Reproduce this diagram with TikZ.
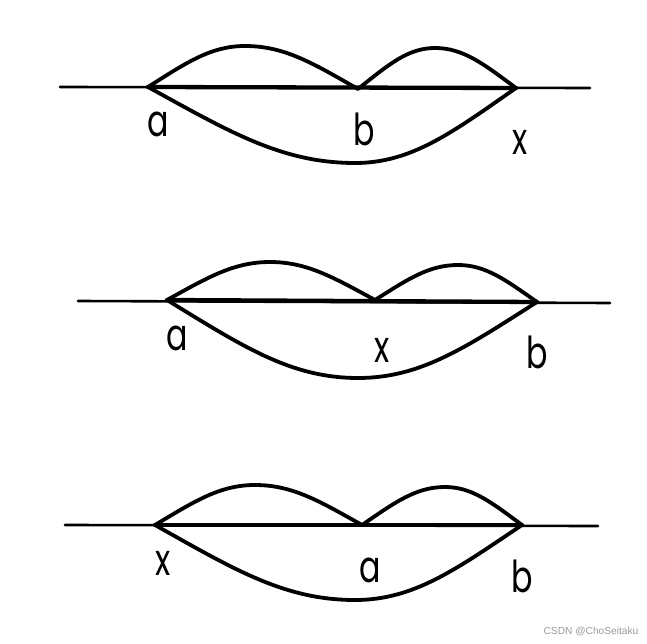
\documentclass[tikz,border=0pt]{standalone}
\usepackage{fontspec}
\usetikzlibrary{calc}
\setmainfont{Poppins}
\newfontfamily\wmfont{Liberation Sans}
\newcommand\curvethrough[3]{%
  \draw[arc] let \p1=(#1),\p2=(#2),\p3=(#3) in
    (\p1) .. controls ({\x1+0.4*(\x2-\x1)},{\y1+0.6*(\y2-\y1)}) and ({\x1+0.65*(\x2-\x1)},\y2) .. (\p2)
          .. controls ({\x2+0.35*(\x3-\x2)},\y2) and ({\x2+0.6*(\x3-\x2)},{\y3+0.6*(\y2-\y3)}) .. (\p3);}
\begin{document}
\begin{tikzpicture}[x=1pt,y=-1pt,
  baseln/.style={line width=2.6pt,line cap=round},
  seg/.style={line width=4.3pt,line cap=round},
  arc/.style={line width=3.8pt,line cap=round,line join=round},
  lbl/.style={inner sep=0pt,font=\fontsize{44}{44}\selectfont},
  wm/.style={inner sep=0pt,text=black!40,font=\wmfont\fontsize{10.2}{11}\selectfont}]
\useasboundingbox (0,0) rectangle (647,644);
% ---------- panel 1 ----------
\coordinate (l1) at (60,87);
\coordinate (r1) at (590,88);
\coordinate (a1) at (148,87);
\coordinate (b1) at (358,89);
\coordinate (x1) at (516,88);
\coordinate (p11) at (245,46);
\coordinate (p12) at (435,48);
\coordinate (q1) at (355,163);
\draw[baseln] (l1) -- (r1);
\draw[seg] (a1) -- (x1);
\curvethrough{a1}{p11}{b1}
\curvethrough{b1}{p12}{x1}
\curvethrough{a1}{q1}{x1}
\node[lbl] (la1) at (158,124) {\scalebox{0.72}[1]{a}};
\node[lbl] (lb1) at (364,129) {\scalebox{0.72}[1]{b}};
\node[lbl] (lx1) at (520,142) {\scalebox{0.72}[1]{x}};
% ---------- panel 2 ----------
\coordinate (l2) at (78,301);
\coordinate (r2) at (610,303);
\coordinate (a2) at (167,300);
\coordinate (x2) at (375,300);
\coordinate (b2) at (537,302);
\coordinate (p21) at (270,262);
\coordinate (p22) at (458,265);
\coordinate (q2) at (358,378);
\draw[baseln] (l2) -- (r2);
\draw[seg] (a2) -- (b2);
\curvethrough{a2}{p21}{x2}
\curvethrough{x2}{p22}{b2}
\curvethrough{a2}{q2}{b2}
\node[lbl] (la2) at (177,338) {\scalebox{0.72}[1]{a}};
\node[lbl] (lx2) at (382,350) {\scalebox{0.72}[1]{x}};
\node[lbl] (lb2) at (537,352) {\scalebox{0.72}[1]{b}};
% ---------- panel 3 ----------
\coordinate (l3) at (65,525);
\coordinate (r3) at (598,526);
\coordinate (x3) at (155,525);
\coordinate (a3) at (362,525);
\coordinate (b3) at (522,525);
\coordinate (p31) at (255,485);
\coordinate (p32) at (445,487);
\coordinate (q3) at (355,600);
\draw[baseln] (l3) -- (r3);
\draw[seg] (x3) -- (b3);
\curvethrough{x3}{p31}{a3}
\curvethrough{a3}{p32}{b3}
\curvethrough{x3}{q3}{b3}
\node[lbl] (lx3) at (163,563) {\scalebox{0.72}[1]{x}};
\node[lbl] (la3) at (370,570) {\scalebox{0.72}[1]{a}};
\node[lbl] (lb3) at (522,576) {\scalebox{0.72}[1]{b}};
% ---------- watermark ----------
\node[wm] (wm) at (591,632) {CSDN @ChoSeitaku};
\end{tikzpicture}
\end{document}
